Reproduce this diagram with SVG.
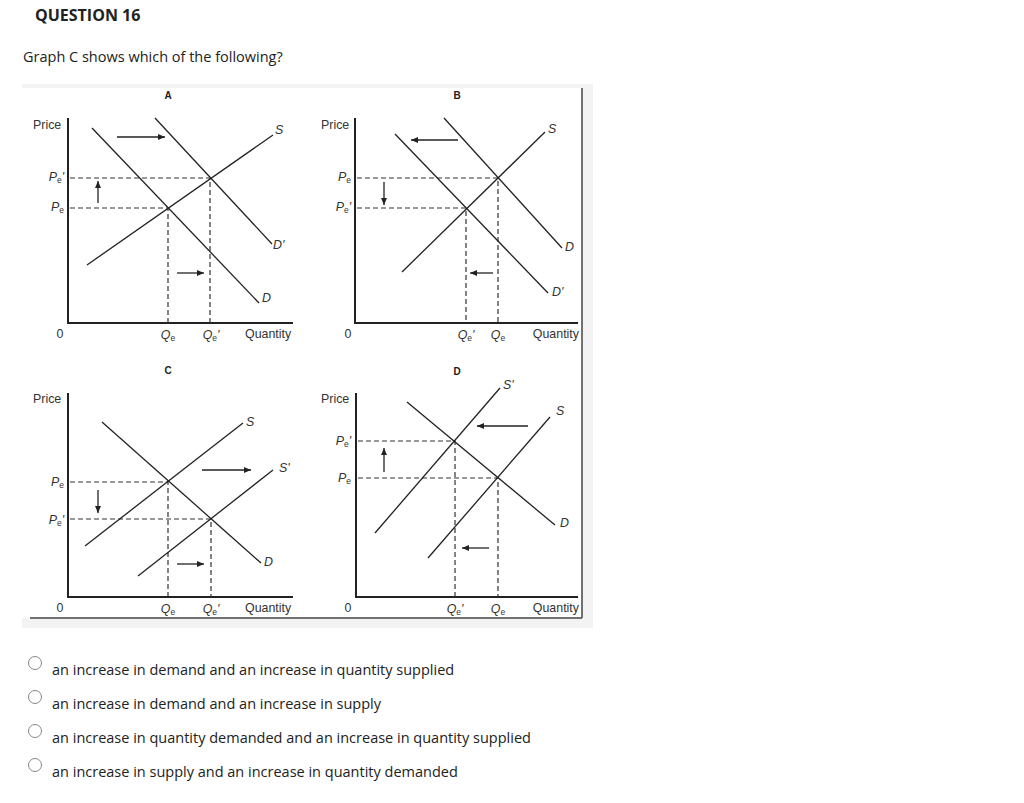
<svg xmlns="http://www.w3.org/2000/svg" width="1024" height="803" viewBox="0 0 1024 803">
<defs>
<marker id="ah" markerUnits="userSpaceOnUse" markerWidth="8" markerHeight="8" refX="7" refY="4" orient="auto">
<path d="M0,1 L7,4 L0,7 Z" fill="#222"/>
</marker>
<style>
.ax{fill:none;stroke:#222;stroke-width:2}
.cv{fill:none;stroke:#222;stroke-width:1.3}
.ds{fill:none;stroke:#333;stroke-width:1.2;stroke-dasharray:5 3}
.ar{fill:none;stroke:#222;stroke-width:1.3;marker-end:url(#ah)}
.t{font-family:"Liberation Sans",Arial,sans-serif;font-size:12.4px;fill:#333}
.it{font-family:"Liberation Sans",Arial,sans-serif;font-size:12.4px;fill:#333;font-style:italic}
.ttl{font-family:"Liberation Sans",Arial,sans-serif;font-size:10px;font-weight:bold;fill:#222;text-anchor:middle}
.sub{font-size:8.5px;font-style:normal}
.q{font-family:"Open Sans","Liberation Sans",sans-serif;font-size:14.5px;fill:#222}
.rb{fill:#fff;stroke:#888;stroke-width:1}
</style>
</defs>
<rect width="1024" height="803" fill="#fff"/>
<g id="header">
<text x="35" y="21" class="q" style="font-weight:bold;font-size:16px">QUESTION 16</text>
<text x="23" y="62" class="q">Graph C shows which of the following?</text>
</g>
<g id="panel">
<rect x="22" y="84" width="571" height="544" fill="#f3f3f3"/>
<rect x="22" y="88" width="560" height="530" fill="#fff"/>
<line x1="582" y1="88" x2="582" y2="618" stroke="#444" stroke-width="1.5"/>
<line x1="30" y1="618" x2="582" y2="618" stroke="#444" stroke-width="1.5"/>
</g>
<g id="graphA">
<text x="168" y="99" class="ttl">A</text>
<polyline class="ax" points="68,118 68,323 293,323"/>
<polyline class="ds" points="70,178 210,178 210,323"/>
<polyline class="ds" points="70,208 168,208 168,323"/>
<line class="cv" x1="87" y1="265" x2="273" y2="135"/>
<line class="cv" x1="92" y1="128" x2="259" y2="303"/>
<line class="cv" x1="155" y1="118" x2="272" y2="244"/>
<line class="ar" x1="117" y1="137" x2="165" y2="137"/>
<line class="ar" x1="98" y1="203" x2="98" y2="181"/>
<line class="ar" x1="177" y1="273" x2="204" y2="273"/>
<text x="33" y="129" class="t">Price</text>
<text x="275" y="134" class="it">S</text>
<text x="273" y="249" class="it">D'</text>
<text x="262" y="302" class="it">D</text>
<text x="60" y="338" class="t" text-anchor="middle">0</text>
<text x="168" y="339" class="it" text-anchor="middle">Q<tspan class="sub" dy="2">e</tspan></text>
<text x="211" y="339" class="it" text-anchor="middle">Q<tspan class="sub" dy="2">e</tspan><tspan dy="-2">'</tspan></text>
<text x="245" y="338" class="t">Quantity</text>
<text x="64" y="181" class="it" text-anchor="end">P<tspan class="sub" dy="2">e</tspan><tspan dy="-2">'</tspan></text>
<text x="64" y="211" class="it" text-anchor="end">P<tspan class="sub" dy="2">e</tspan></text>
</g>
<g id="graphB">
<text x="457" y="99" class="ttl">B</text>
<polyline class="ax" points="355,118 355,323 578,323"/>
<polyline class="ds" points="357,178 498,178 498,323"/>
<polyline class="ds" points="357,208 466,208 466,323"/>
<line class="cv" x1="402" y1="272" x2="545" y2="132"/>
<line class="cv" x1="444" y1="118" x2="562" y2="248"/>
<line class="cv" x1="395" y1="134" x2="548" y2="293"/>
<line class="ar" x1="458" y1="140" x2="411" y2="140"/>
<line class="ar" x1="384" y1="182" x2="384" y2="205"/>
<line class="ar" x1="493" y1="273" x2="470" y2="273"/>
<text x="321" y="129" class="t">Price</text>
<text x="548" y="133" class="it">S</text>
<text x="565" y="251" class="it">D</text>
<text x="552" y="296" class="it">D'</text>
<text x="348" y="338" class="t" text-anchor="middle">0</text>
<text x="466" y="339" class="it" text-anchor="middle">Q<tspan class="sub" dy="2">e</tspan><tspan dy="-2">'</tspan></text>
<text x="498" y="339" class="it" text-anchor="middle">Q<tspan class="sub" dy="2">e</tspan></text>
<text x="579" y="338" class="t" text-anchor="end">Quantity</text>
<text x="351" y="181" class="it" text-anchor="end">P<tspan class="sub" dy="2">e</tspan></text>
<text x="351" y="211" class="it" text-anchor="end">P<tspan class="sub" dy="2">e</tspan><tspan dy="-2">'</tspan></text>
</g>
<g id="graphC">
<text x="168" y="374" class="ttl">C</text>
<polyline class="ax" points="68,393 68,597 293,597"/>
<polyline class="ds" points="70,482 168,482 168,597"/>
<polyline class="ds" points="70,519 211,519 211,597"/>
<line class="cv" x1="85" y1="546" x2="243" y2="423"/>
<line class="cv" x1="138" y1="576" x2="273" y2="470"/>
<line class="cv" x1="102" y1="422" x2="261" y2="563"/>
<line class="ar" x1="202" y1="470" x2="251" y2="470"/>
<line class="ar" x1="98" y1="490" x2="98" y2="513"/>
<line class="ar" x1="177" y1="564" x2="204" y2="564"/>
<text x="33" y="403" class="t">Price</text>
<text x="246" y="426" class="it">S</text>
<text x="279" y="472" class="it">S'</text>
<text x="264" y="566" class="it">D</text>
<text x="60" y="612" class="t" text-anchor="middle">0</text>
<text x="168" y="613" class="it" text-anchor="middle">Q<tspan class="sub" dy="2">e</tspan></text>
<text x="211" y="613" class="it" text-anchor="middle">Q<tspan class="sub" dy="2">e</tspan><tspan dy="-2">'</tspan></text>
<text x="245" y="612" class="t">Quantity</text>
<text x="64" y="486" class="it" text-anchor="end">P<tspan class="sub" dy="2">e</tspan></text>
<text x="64" y="524" class="it" text-anchor="end">P<tspan class="sub" dy="2">e</tspan><tspan dy="-2">'</tspan></text>
</g>
<g id="graphD">
<text x="457" y="375" class="ttl">D</text>
<polyline class="ax" points="356,393 356,597 578,597"/>
<polyline class="ds" points="358,441 455,441 455,597"/>
<polyline class="ds" points="358,478 498,478 498,597"/>
<line class="cv" x1="375" y1="533" x2="500" y2="388"/>
<line class="cv" x1="428" y1="558" x2="550" y2="417"/>
<line class="cv" x1="407" y1="402" x2="555" y2="525"/>
<line class="ar" x1="528" y1="426" x2="477" y2="426"/>
<line class="ar" x1="384" y1="472" x2="384" y2="448"/>
<line class="ar" x1="489" y1="548" x2="462" y2="548"/>
<text x="321" y="403" class="t">Price</text>
<text x="503" y="389" class="it">S'</text>
<text x="556" y="415" class="it">S</text>
<text x="560" y="527" class="it">D</text>
<text x="348" y="612" class="t" text-anchor="middle">0</text>
<text x="455" y="613" class="it" text-anchor="middle">Q<tspan class="sub" dy="2">e</tspan><tspan dy="-2">'</tspan></text>
<text x="498" y="613" class="it" text-anchor="middle">Q<tspan class="sub" dy="2">e</tspan></text>
<text x="579" y="612" class="t" text-anchor="end">Quantity</text>
<text x="351" y="445" class="it" text-anchor="end">P<tspan class="sub" dy="2">e</tspan><tspan dy="-2">'</tspan></text>
<text x="351" y="482" class="it" text-anchor="end">P<tspan class="sub" dy="2">e</tspan></text>
</g>
<g id="options">
<circle class="rb" cx="35" cy="663" r="6.5"/>
<text x="52" y="675" class="q">an increase in demand and an increase in quantity supplied</text>
<circle class="rb" cx="35" cy="697" r="6.5"/>
<text x="52" y="709" class="q">an increase in demand and an increase in supply</text>
<circle class="rb" cx="35" cy="731" r="6.5"/>
<text x="52" y="743" class="q">an increase in quantity demanded and an increase in quantity supplied</text>
<circle class="rb" cx="35" cy="765" r="6.5"/>
<text x="52" y="777" class="q">an increase in supply and an increase in quantity demanded</text>
</g>
</svg>
